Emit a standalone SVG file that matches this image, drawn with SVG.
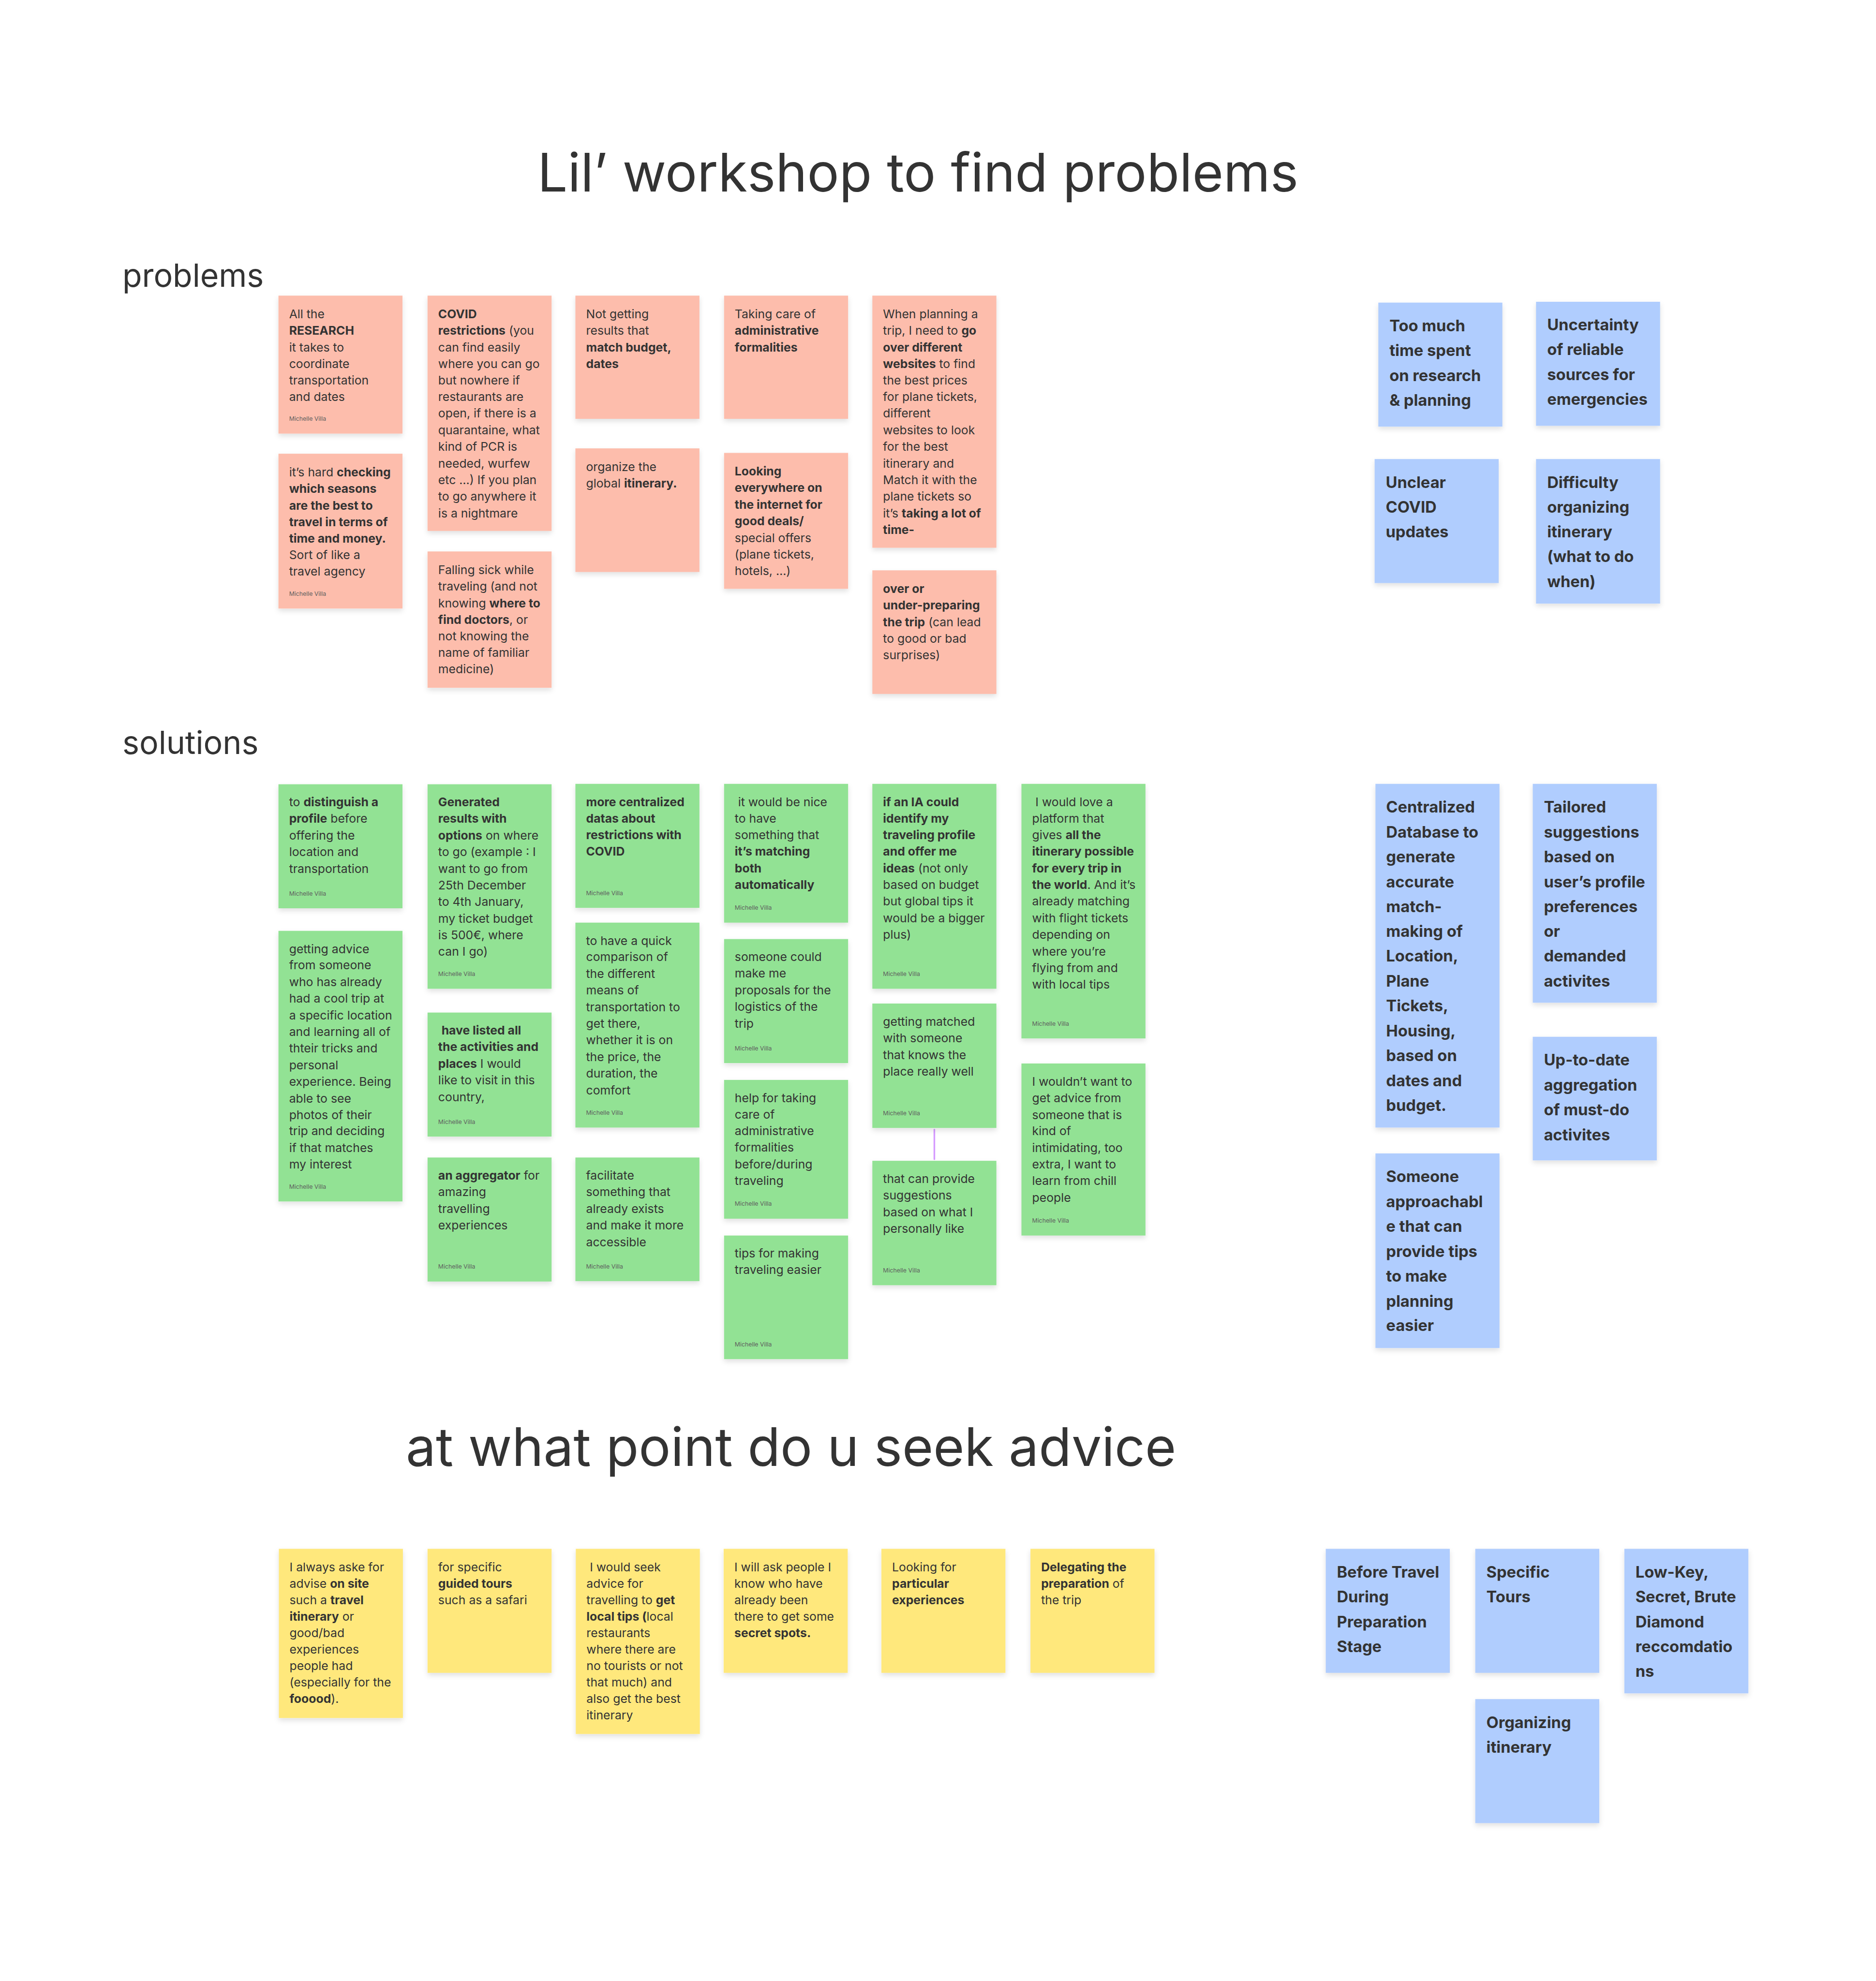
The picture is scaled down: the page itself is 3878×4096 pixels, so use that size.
<svg xmlns="http://www.w3.org/2000/svg" width="3878" height="4096" viewBox="0 0 3878 4096">
<defs>
<filter id="sh" x="-10%" y="-10%" width="120%" height="130%"><feDropShadow dx="0" dy="6" stdDeviation="6" flood-color="#000" flood-opacity="0.12"/></filter>
<style>
.pk{fill:#FDBDAC;filter:url(#sh)}
.gr{fill:#92E294;filter:url(#sh)}
.bl{fill:#B0CDFE;filter:url(#sh)}
.yl{fill:#FFE87B;filter:url(#sh)}
text{font-family:Inter,"Liberation Sans",sans-serif;fill:#333333}
.t{font-size:29.2px}
.b{font-weight:700}
.a{font-size:14.5px;fill:#5e5e5e}
.bt{font-size:38.5px;font-weight:700}
.h1{font-size:130px}
.h2{font-size:78px}
.cn{stroke:#D59BFF;stroke-width:4;stroke-linecap:round;fill:none}
</style>
</defs>
<rect width="3878" height="4096" fill="#ffffff"/>
<g transform="scale(0.849)">
<g id="titles">
<text class="h1" x="2235" y="467" text-anchor="middle">Lil’ workshop to find problems</text>
<text class="h2" x="298" y="698">problems</text>
<text class="h2" x="298" y="1836">solutions</text>
<text class="h1" x="1926" y="3570" text-anchor="middle">at what point do u seek advice</text>
</g>

<g id="connectors">
<line class="cn" x1="2275" y1="2751" x2="2275" y2="2823"/>
</g>

<!-- problems (pink) -->
<g id="p1"><rect class="pk" x="678" y="720" width="302" height="336"/>
<text class="t"><tspan x="704" y="775">All the</tspan><tspan x="704" y="815" class="b">RESEARCH</tspan><tspan x="704" y="856">it takes to</tspan><tspan x="704" y="896">coordinate</tspan><tspan x="704" y="937">transportation</tspan><tspan x="704" y="977">and dates</tspan></text>
<text class="a" x="704" y="1025">Michelle Villa</text></g>

<g id="p2"><rect class="pk" x="678" y="1105" width="302" height="377"/>
<text class="t"><tspan x="704" y="1160">it’s hard <tspan class="b">checking</tspan></tspan><tspan x="704" y="1200" class="b">which seasons</tspan><tspan x="704" y="1241" class="b">are the best to</tspan><tspan x="704" y="1281" class="b">travel in terms of</tspan><tspan x="704" y="1322" class="b">time and money.</tspan><tspan x="704" y="1362">Sort of like a</tspan><tspan x="704" y="1402">travel agency</tspan></text>
<text class="a" x="704" y="1451">Michelle Villa</text></g>

<g id="p3"><rect class="pk" x="1041" y="720" width="302" height="573"/>
<text class="t"><tspan x="1067" y="775" class="b">COVID</tspan><tspan x="1067" y="815"><tspan class="b">restrictions</tspan> (you</tspan><tspan x="1067" y="856">can find easily</tspan><tspan x="1067" y="896">where you can go</tspan><tspan x="1067" y="937">but nowhere if</tspan><tspan x="1067" y="977">restaurants are</tspan><tspan x="1067" y="1017">open, if there is a</tspan><tspan x="1067" y="1058">quarantaine, what</tspan><tspan x="1067" y="1098">kind of PCR is</tspan><tspan x="1067" y="1139">needed, wurfew</tspan><tspan x="1067" y="1179">etc …) If you plan</tspan><tspan x="1067" y="1219">to go anywhere it</tspan><tspan x="1067" y="1260">is a nightmare</tspan></text></g>

<g id="p4"><rect class="pk" x="1041" y="1343" width="302" height="332"/>
<text class="t"><tspan x="1067" y="1398">Falling sick while</tspan><tspan x="1067" y="1438">traveling (and not</tspan><tspan x="1067" y="1479">knowing <tspan class="b">where to</tspan></tspan><tspan x="1067" y="1519"><tspan class="b">find doctors</tspan>, or</tspan><tspan x="1067" y="1560">not knowing the</tspan><tspan x="1067" y="1600">name of familiar</tspan><tspan x="1067" y="1640">medicine)</tspan></text></g>

<g id="p5"><rect class="pk" x="1401" y="720" width="302" height="300"/>
<text class="t"><tspan x="1427" y="775">Not getting</tspan><tspan x="1427" y="815">results that</tspan><tspan x="1427" y="856" class="b">match budget,</tspan><tspan x="1427" y="896" class="b">dates</tspan></text></g>

<g id="p6"><rect class="pk" x="1401" y="1092" width="302" height="301"/>
<text class="t"><tspan x="1427" y="1147">organize the</tspan><tspan x="1427" y="1187">global <tspan class="b">itinerary.</tspan></tspan></text></g>

<g id="p7"><rect class="pk" x="1763" y="720" width="302" height="300"/>
<text class="t"><tspan x="1789" y="775">Taking care of</tspan><tspan x="1789" y="815" class="b">administrative</tspan><tspan x="1789" y="856" class="b">formalities</tspan></text></g>

<g id="p8"><rect class="pk" x="1763" y="1103" width="302" height="331"/>
<text class="t"><tspan x="1789" y="1158" class="b">Looking</tspan><tspan x="1789" y="1198" class="b">everywhere on</tspan><tspan x="1789" y="1239" class="b">the internet for</tspan><tspan x="1789" y="1279" class="b">good deals/</tspan><tspan x="1789" y="1320">special offers</tspan><tspan x="1789" y="1360">(plane tickets,</tspan><tspan x="1789" y="1400">hotels, …)</tspan></text></g>

<g id="p9"><rect class="pk" x="2124" y="720" width="302" height="614"/>
<text class="t"><tspan x="2150" y="775">When planning a</tspan><tspan x="2150" y="815">trip, I need to <tspan class="b">go</tspan></tspan><tspan x="2150" y="856" class="b">over different</tspan><tspan x="2150" y="896"><tspan class="b">websites</tspan> to find</tspan><tspan x="2150" y="937">the best prices</tspan><tspan x="2150" y="977">for plane tickets,</tspan><tspan x="2150" y="1017">different</tspan><tspan x="2150" y="1058">websites to look</tspan><tspan x="2150" y="1098">for the best</tspan><tspan x="2150" y="1139">itinerary and</tspan><tspan x="2150" y="1179">Match it with the</tspan><tspan x="2150" y="1219">plane tickets so</tspan><tspan x="2150" y="1260">it’s <tspan class="b">taking a lot of</tspan></tspan><tspan x="2150" y="1300" class="b">time-</tspan></text></g>

<g id="p10"><rect class="pk" x="2124" y="1389" width="302" height="301"/>
<text class="t"><tspan x="2150" y="1444" class="b">over or</tspan><tspan x="2150" y="1484" class="b">under-preparing</tspan><tspan x="2150" y="1525"><tspan class="b">the trip</tspan> (can lead</tspan><tspan x="2150" y="1565">to good or bad</tspan><tspan x="2150" y="1606">surprises)</tspan></text></g>

<!-- problems (blue) -->
<g id="b1"><rect class="bl" x="3356" y="737" width="302" height="302"/>
<text class="bt"><tspan x="3383" y="807">Too much</tspan><tspan x="3383" y="867">time spent</tspan><tspan x="3383" y="928">on research</tspan><tspan x="3383" y="988">&amp; planning</tspan></text></g>

<g id="b2"><rect class="bl" x="3740" y="735" width="302" height="302"/>
<text class="bt"><tspan x="3767" y="805">Uncertainty</tspan><tspan x="3767" y="865">of reliable</tspan><tspan x="3767" y="926">sources for</tspan><tspan x="3767" y="986">emergencies</tspan></text></g>

<g id="b3"><rect class="bl" x="3347" y="1118" width="302" height="302"/>
<text class="bt"><tspan x="3374" y="1188">Unclear</tspan><tspan x="3374" y="1248">COVID</tspan><tspan x="3374" y="1309">updates</tspan></text></g>

<g id="b4"><rect class="bl" x="3740" y="1118" width="302" height="352"/>
<text class="bt"><tspan x="3767" y="1188">Difficulty</tspan><tspan x="3767" y="1248">organizing</tspan><tspan x="3767" y="1309">itinerary</tspan><tspan x="3767" y="1369">(what to do</tspan><tspan x="3767" y="1430">when)</tspan></text></g>

<!-- solutions (green) -->
<g id="g1"><rect class="gr" x="678" y="1910" width="302" height="302"/>
<text class="t"><tspan x="704" y="1964">to <tspan class="b">distinguish a</tspan></tspan><tspan x="704" y="2004"><tspan class="b">profile</tspan> before</tspan><tspan x="704" y="2045">offering the</tspan><tspan x="704" y="2085">location and</tspan><tspan x="704" y="2126">transportation</tspan></text>
<text class="a" x="704" y="2181">Michelle Villa</text></g>

<g id="g2"><rect class="gr" x="678" y="2267" width="302" height="659"/>
<text class="t"><tspan x="704" y="2321">getting advice</tspan><tspan x="704" y="2361">from someone</tspan><tspan x="704" y="2402">who has already</tspan><tspan x="704" y="2442">had a cool trip at</tspan><tspan x="704" y="2483">a specific location</tspan><tspan x="704" y="2523">and learning all of</tspan><tspan x="704" y="2563">thteir tricks and</tspan><tspan x="704" y="2604">personal</tspan><tspan x="704" y="2644">experience. Being</tspan><tspan x="704" y="2685">able to see</tspan><tspan x="704" y="2725">photos of their</tspan><tspan x="704" y="2765">trip and deciding</tspan><tspan x="704" y="2806">if that matches</tspan><tspan x="704" y="2846">my interest</tspan></text>
<text class="a" x="704" y="2895">Michelle Villa</text></g>

<g id="g3"><rect class="gr" x="1041" y="1910" width="302" height="498"/>
<text class="t"><tspan x="1067" y="1964" class="b">Generated</tspan><tspan x="1067" y="2004" class="b">results with</tspan><tspan x="1067" y="2045"><tspan class="b">options</tspan> on where</tspan><tspan x="1067" y="2085">to go (example : I</tspan><tspan x="1067" y="2126">want to go from</tspan><tspan x="1067" y="2166">25th December</tspan><tspan x="1067" y="2206">to 4th January,</tspan><tspan x="1067" y="2247">my ticket budget</tspan><tspan x="1067" y="2287">is 500€, where</tspan><tspan x="1067" y="2328">can I go)</tspan></text>
<text class="a" x="1067" y="2377">Michelle Villa</text></g>

<g id="g4"><rect class="gr" x="1041" y="2466" width="302" height="302"/>
<text class="t"><tspan x="1075" y="2520" class="b">have listed all</tspan><tspan x="1067" y="2560" class="b">the activities and</tspan><tspan x="1067" y="2601"><tspan class="b">places</tspan> I would</tspan><tspan x="1067" y="2641">like to visit in this</tspan><tspan x="1067" y="2682">country,</tspan></text>
<text class="a" x="1067" y="2737">Michelle Villa</text></g>

<g id="g5"><rect class="gr" x="1041" y="2819" width="302" height="302"/>
<text class="t"><tspan x="1067" y="2873"><tspan class="b">an aggregator</tspan> for</tspan><tspan x="1067" y="2913">amazing</tspan><tspan x="1067" y="2954">travelling</tspan><tspan x="1067" y="2994">experiences</tspan></text>
<text class="a" x="1067" y="3090">Michelle Villa</text></g>

<g id="g6"><rect class="gr" x="1401" y="1909" width="302" height="302"/>
<text class="t b"><tspan x="1427" y="1963">more centralized</tspan><tspan x="1427" y="2003">datas about</tspan><tspan x="1427" y="2044">restrictions with</tspan><tspan x="1427" y="2084">COVID</tspan></text>
<text class="a" x="1427" y="2180">Michelle Villa</text></g>

<g id="g7"><rect class="gr" x="1401" y="2247" width="302" height="499"/>
<text class="t"><tspan x="1427" y="2301">to have a quick</tspan><tspan x="1427" y="2341">comparison of</tspan><tspan x="1427" y="2382">the different</tspan><tspan x="1427" y="2422">means of</tspan><tspan x="1427" y="2463">transportation to</tspan><tspan x="1427" y="2503">get there,</tspan><tspan x="1427" y="2543">whether it is on</tspan><tspan x="1427" y="2584">the price, the</tspan><tspan x="1427" y="2624">duration, the</tspan><tspan x="1427" y="2665">comfort</tspan></text>
<text class="a" x="1427" y="2715">Michelle Villa</text></g>

<g id="g8"><rect class="gr" x="1401" y="2819" width="302" height="301"/>
<text class="t"><tspan x="1427" y="2873">facilitate</tspan><tspan x="1427" y="2913">something that</tspan><tspan x="1427" y="2954">already exists</tspan><tspan x="1427" y="2994">and make it more</tspan><tspan x="1427" y="3035">accessible</tspan></text>
<text class="a" x="1427" y="3089">Michelle Villa</text></g>

<g id="g9"><rect class="gr" x="1763" y="1909" width="302" height="338"/>
<text class="t"><tspan x="1797" y="1963">it would be nice</tspan><tspan x="1789" y="2003">to have</tspan><tspan x="1789" y="2044">something that</tspan><tspan x="1789" y="2084" class="b">it’s matching</tspan><tspan x="1789" y="2125" class="b">both</tspan><tspan x="1789" y="2165" class="b">automatically</tspan></text>
<text class="a" x="1789" y="2216">Michelle Villa</text></g>

<g id="g10"><rect class="gr" x="1763" y="2287" width="302" height="302"/>
<text class="t"><tspan x="1789" y="2341">someone could</tspan><tspan x="1789" y="2381">make me</tspan><tspan x="1789" y="2422">proposals for the</tspan><tspan x="1789" y="2462">logistics of the</tspan><tspan x="1789" y="2503">trip</tspan></text>
<text class="a" x="1789" y="2558">Michelle Villa</text></g>

<g id="g11"><rect class="gr" x="1763" y="2630" width="302" height="338"/>
<text class="t"><tspan x="1789" y="2684">help for taking</tspan><tspan x="1789" y="2724">care of</tspan><tspan x="1789" y="2765">administrative</tspan><tspan x="1789" y="2805">formalities</tspan><tspan x="1789" y="2846">before/during</tspan><tspan x="1789" y="2886">traveling</tspan></text>
<text class="a" x="1789" y="2937">Michelle Villa</text></g>

<g id="g12"><rect class="gr" x="1763" y="3009" width="302" height="301"/>
<text class="t"><tspan x="1789" y="3063">tips for making</tspan><tspan x="1789" y="3103">traveling easier</tspan></text>
<text class="a" x="1789" y="3279">Michelle Villa</text></g>

<g id="g13"><rect class="gr" x="2124" y="1909" width="302" height="499"/>
<text class="t"><tspan x="2150" y="1963" class="b">if an IA could</tspan><tspan x="2150" y="2003" class="b">identify my</tspan><tspan x="2150" y="2044" class="b">traveling profile</tspan><tspan x="2150" y="2084" class="b">and offer me</tspan><tspan x="2150" y="2125"><tspan class="b">ideas</tspan> (not only</tspan><tspan x="2150" y="2165">based on budget</tspan><tspan x="2150" y="2205">but global tips it</tspan><tspan x="2150" y="2246">would be a bigger</tspan><tspan x="2150" y="2286">plus)</tspan></text>
<text class="a" x="2150" y="2377">Michelle Villa</text></g>

<g id="g14"><rect class="gr" x="2124" y="2444" width="302" height="303"/>
<text class="t"><tspan x="2150" y="2498">getting matched</tspan><tspan x="2150" y="2538">with someone</tspan><tspan x="2150" y="2579">that knows the</tspan><tspan x="2150" y="2619">place really well</tspan></text>
<text class="a" x="2150" y="2716">Michelle Villa</text></g>

<g id="g15"><rect class="gr" x="2124" y="2827" width="302" height="303"/>
<text class="t"><tspan x="2150" y="2881">that can provide</tspan><tspan x="2150" y="2921">suggestions</tspan><tspan x="2150" y="2962">based on what I</tspan><tspan x="2150" y="3002">personally like</tspan></text>
<text class="a" x="2150" y="3099">Michelle Villa</text></g>

<g id="g16"><rect class="gr" x="2487" y="1909" width="302" height="620"/>
<text class="t"><tspan x="2521" y="1963">I would love a</tspan><tspan x="2513" y="2003">platform that</tspan><tspan x="2513" y="2044">gives <tspan class="b">all the</tspan></tspan><tspan x="2513" y="2084" class="b">itinerary possible</tspan><tspan x="2513" y="2125" class="b">for every trip in</tspan><tspan x="2513" y="2165"><tspan class="b">the world</tspan>. And it’s</tspan><tspan x="2513" y="2205">already matching</tspan><tspan x="2513" y="2246">with flight tickets</tspan><tspan x="2513" y="2286">depending on</tspan><tspan x="2513" y="2327">where you’re</tspan><tspan x="2513" y="2367">flying from and</tspan><tspan x="2513" y="2407">with local tips</tspan></text>
<text class="a" x="2513" y="2498">Michelle Villa</text></g>

<g id="g17"><rect class="gr" x="2487" y="2590" width="302" height="419"/>
<text class="t"><tspan x="2513" y="2644">I wouldn’t want to</tspan><tspan x="2513" y="2684">get advice from</tspan><tspan x="2513" y="2725">someone that is</tspan><tspan x="2513" y="2765">kind of</tspan><tspan x="2513" y="2806">intimidating, too</tspan><tspan x="2513" y="2846">extra, I want to</tspan><tspan x="2513" y="2886">learn from chill</tspan><tspan x="2513" y="2927">people</tspan></text>
<text class="a" x="2513" y="2978">Michelle Villa</text></g>

<!-- solutions (blue) -->
<g id="b5"><rect class="bl" x="3349" y="1909" width="302" height="837"/>
<text class="bt"><tspan x="3375" y="1979">Centralized</tspan><tspan x="3375" y="2040">Database to</tspan><tspan x="3375" y="2100">generate</tspan><tspan x="3375" y="2161">accurate</tspan><tspan x="3375" y="2221">match-</tspan><tspan x="3375" y="2282">making of</tspan><tspan x="3375" y="2342">Location,</tspan><tspan x="3375" y="2403">Plane</tspan><tspan x="3375" y="2463">Tickets,</tspan><tspan x="3375" y="2524">Housing,</tspan><tspan x="3375" y="2584">based on</tspan><tspan x="3375" y="2645">dates and</tspan><tspan x="3375" y="2705">budget.</tspan></text></g>

<g id="b6"><rect class="bl" x="3349" y="2809" width="302" height="474"/>
<text class="bt"><tspan x="3375" y="2879">Someone</tspan><tspan x="3375" y="2940">approachabl</tspan><tspan x="3375" y="3000">e that can</tspan><tspan x="3375" y="3061">provide tips</tspan><tspan x="3375" y="3121">to make</tspan><tspan x="3375" y="3182">planning</tspan><tspan x="3375" y="3242">easier</tspan></text></g>

<g id="b7"><rect class="bl" x="3732" y="1909" width="302" height="533"/>
<text class="bt"><tspan x="3759" y="1979">Tailored</tspan><tspan x="3759" y="2040">suggestions</tspan><tspan x="3759" y="2100">based on</tspan><tspan x="3759" y="2161">user’s profile</tspan><tspan x="3759" y="2221">preferences</tspan><tspan x="3759" y="2282">or</tspan><tspan x="3759" y="2342">demanded</tspan><tspan x="3759" y="2403">activites</tspan></text></g>

<g id="b8"><rect class="bl" x="3732" y="2525" width="302" height="301"/>
<text class="bt"><tspan x="3759" y="2595">Up-to-date</tspan><tspan x="3759" y="2656">aggregation</tspan><tspan x="3759" y="2716">of must-do</tspan><tspan x="3759" y="2777">activites</tspan></text></g>

<!-- advice (yellow) -->
<g id="y1"><rect class="yl" x="679" y="3772" width="302" height="412"/>
<text class="t"><tspan x="705" y="3827">I always aske for</tspan><tspan x="705" y="3867">advise <tspan class="b">on site</tspan></tspan><tspan x="705" y="3907">such a <tspan class="b">travel</tspan></tspan><tspan x="705" y="3947"><tspan class="b">itinerary</tspan> or</tspan><tspan x="705" y="3987">good/bad</tspan><tspan x="705" y="4027">experiences</tspan><tspan x="705" y="4067">people had</tspan><tspan x="705" y="4107">(especially for the</tspan><tspan x="705" y="4147"><tspan class="b">fooood</tspan>).</tspan></text></g>

<g id="y2"><rect class="yl" x="1041" y="3772" width="302" height="302"/>
<text class="t"><tspan x="1067" y="3827">for specific</tspan><tspan x="1067" y="3867" class="b">guided tours</tspan><tspan x="1067" y="3907">such as a safari</tspan></text></g>

<g id="y3"><rect class="yl" x="1402" y="3772" width="302" height="451"/>
<text class="t"><tspan x="1436" y="3827">I would seek</tspan><tspan x="1428" y="3867">advice for</tspan><tspan x="1428" y="3907">travelling to <tspan class="b">get</tspan></tspan><tspan x="1428" y="3947"><tspan class="b">local tips (</tspan>local</tspan><tspan x="1428" y="3987">restaurants</tspan><tspan x="1428" y="4027">where there are</tspan><tspan x="1428" y="4067">no tourists or not</tspan><tspan x="1428" y="4107">that much) and</tspan><tspan x="1428" y="4147">also get the best</tspan><tspan x="1428" y="4187">itinerary</tspan></text></g>

<g id="y4"><rect class="yl" x="1762" y="3772" width="302" height="302"/>
<text class="t"><tspan x="1788" y="3827">I will ask people I</tspan><tspan x="1788" y="3867">know who have</tspan><tspan x="1788" y="3907">already been</tspan><tspan x="1788" y="3947">there to get some</tspan><tspan x="1788" y="3987" class="b">secret spots.</tspan></text></g>

<g id="y5"><rect class="yl" x="2146" y="3772" width="302" height="302"/>
<text class="t"><tspan x="2172" y="3827">Looking for</tspan><tspan x="2172" y="3867" class="b">particular</tspan><tspan x="2172" y="3907" class="b">experiences</tspan></text></g>

<g id="y6"><rect class="yl" x="2509" y="3772" width="302" height="302"/>
<text class="t"><tspan x="2535" y="3827" class="b">Delegating the</tspan><tspan x="2535" y="3867"><tspan class="b">preparation</tspan> of</tspan><tspan x="2535" y="3907">the trip</tspan></text></g>

<!-- advice (blue) -->
<g id="b9"><rect class="bl" x="3228" y="3772" width="302" height="302"/>
<text class="bt"><tspan x="3255" y="3842">Before Travel</tspan><tspan x="3255" y="3902">During</tspan><tspan x="3255" y="3963">Preparation</tspan><tspan x="3255" y="4023">Stage</tspan></text></g>

<g id="b10"><rect class="bl" x="3592" y="3772" width="302" height="302"/>
<text class="bt"><tspan x="3619" y="3842">Specific</tspan><tspan x="3619" y="3902">Tours</tspan></text></g>

<g id="b11"><rect class="bl" x="3955" y="3772" width="302" height="352"/>
<text class="bt"><tspan x="3982" y="3842">Low-Key,</tspan><tspan x="3982" y="3902">Secret, Brute</tspan><tspan x="3982" y="3963">Diamond</tspan><tspan x="3982" y="4023">reccomdatio</tspan><tspan x="3982" y="4084">ns</tspan></text></g>

<g id="b12"><rect class="bl" x="3592" y="4138" width="302" height="302"/>
<text class="bt"><tspan x="3619" y="4208">Organizing</tspan><tspan x="3619" y="4268">itinerary</tspan></text></g>
</g>
</svg>
